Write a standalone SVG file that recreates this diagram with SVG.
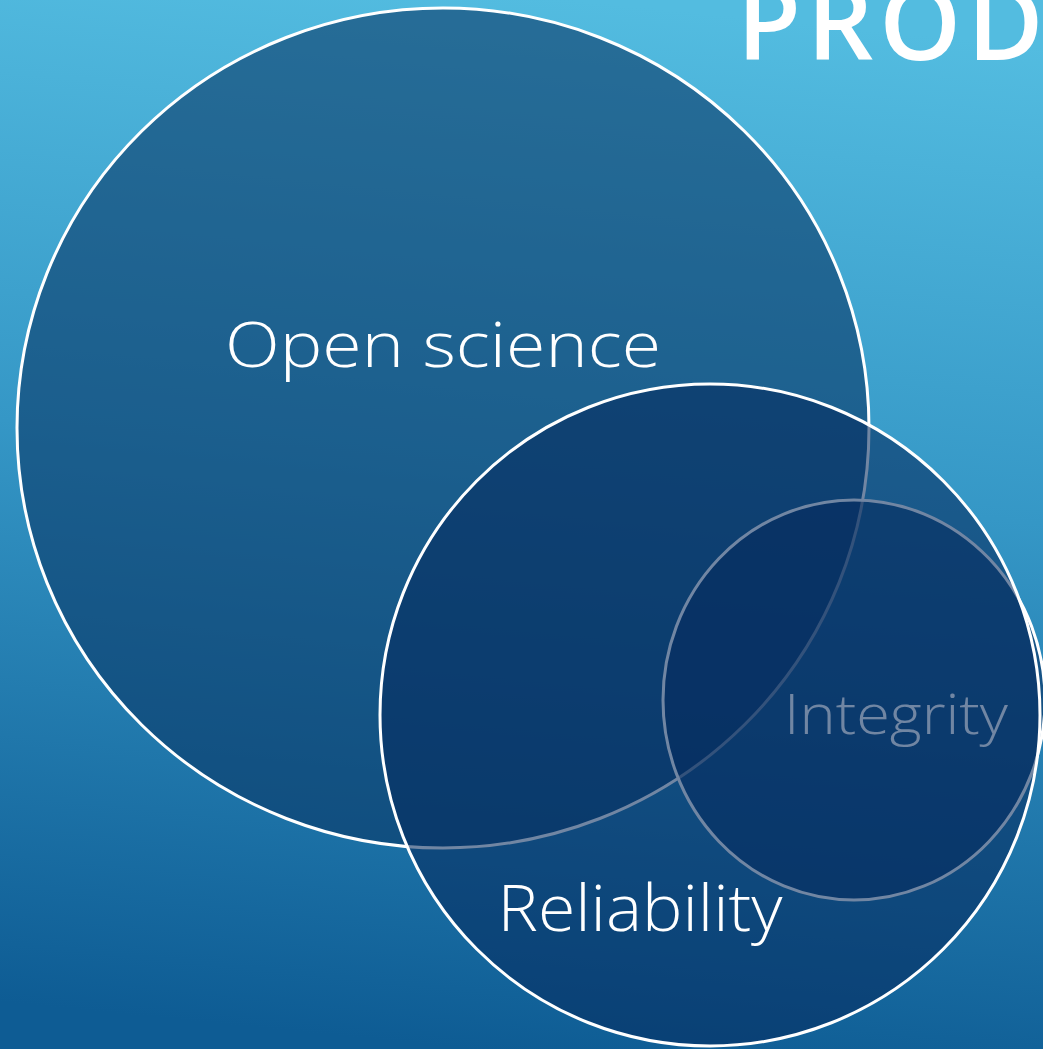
<svg xmlns="http://www.w3.org/2000/svg" width="1043" height="1049" viewBox="0 0 1043 1049">
  <defs>
    <linearGradient id="bg" x1="0.55" y1="0" x2="0.45" y2="1">
      <stop offset="0" stop-color="#53bce0"/>
      <stop offset="0.45" stop-color="#3597c6"/>
      <stop offset="1" stop-color="#0e5c94"/>
    </linearGradient>
  </defs>
  <style>
    .ring { fill: #0a3868; fill-opacity: 0.6; stroke: #ffffff; stroke-width: 3; }
    .inner { fill: #052b5d; fill-opacity: 0.57; stroke: #ffffff; stroke-width: 3; }
    .lbl { font-family: "Open Sans", "Liberation Sans", sans-serif; font-weight: 300; }
  </style>
  <rect x="0" y="0" width="1043" height="1049" fill="url(#bg)"/>
  <text x="737" y="60" font-family="'Open Sans', 'Liberation Sans', sans-serif" font-size="104" font-weight="600" fill="#ffffff" letter-spacing="6">PROD</text>
  <g id="open-science">
    <ellipse class="ring" cx="443" cy="428" rx="426" ry="420"/>
    <text class="lbl" x="443" y="367" font-size="63" fill="#ffffff" text-anchor="middle" textLength="436" lengthAdjust="spacingAndGlyphs">Open science</text>
  </g>
  <g id="integrity">
    <ellipse class="inner" cx="854" cy="700" rx="191" ry="200"/>
    <text class="lbl" x="896" y="734" font-size="56" fill="#ffffff" text-anchor="middle" textLength="224" lengthAdjust="spacingAndGlyphs">Integrity</text>
  </g>
  <g id="reliability">
    <ellipse class="inner" cx="710" cy="715" rx="330" ry="331"/>
    <text class="lbl" x="640" y="931" font-size="64" fill="#ffffff" text-anchor="middle" textLength="285" lengthAdjust="spacingAndGlyphs">Reliability</text>
  </g>
  <g id="connectors"/>
</svg>
